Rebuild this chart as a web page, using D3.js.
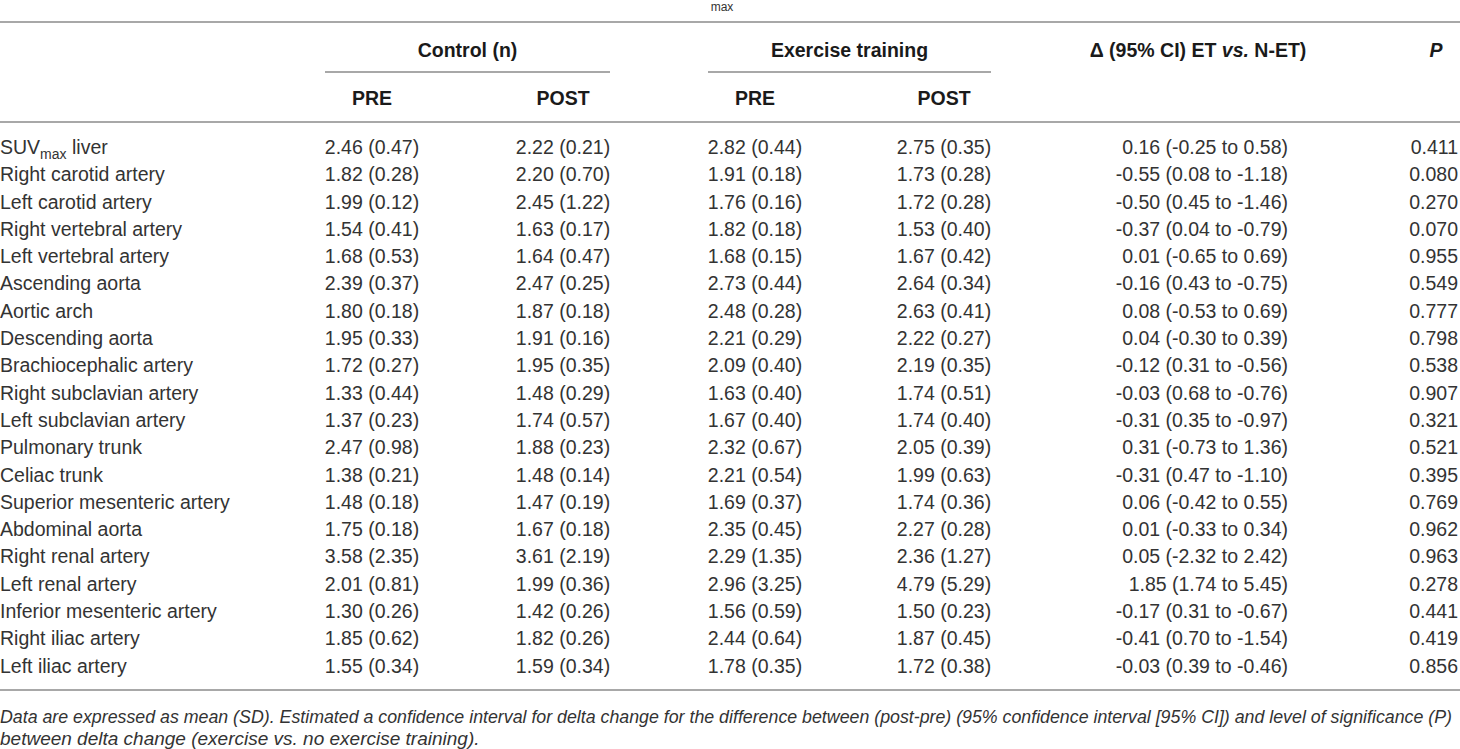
<!DOCTYPE html>
<html>
<head>
<meta charset="UTF-8">
<script src="https://d3js.org/d3.v7.min.js"></script>
<style>
  body { margin: 0; background: #fff; }
  svg text { font-family: "Liberation Sans", Arial, sans-serif; fill: #333; }
  .cell { font-size: 19.5px; }
  .head { font-size: 19.5px; font-weight: bold; fill: #1a1a1a; }
  .rule { stroke: #a8a8a8; stroke-width: 1.6; shape-rendering: crispEdges; }
  .note { font-size: 19px; font-style: italic; }
</style>
</head>
<body>
<svg></svg>
<script>
// table data
var rowLabels = ['SUVmax liver', 'Right carotid artery', 'Left carotid artery', 'Right vertebral artery',
  'Left vertebral artery', 'Ascending aorta', 'Aortic arch', 'Descending aorta', 'Brachiocephalic artery',
  'Right subclavian artery', 'Left subclavian artery', 'Pulmonary trunk', 'Celiac trunk',
  'Superior mesenteric artery', 'Abdominal aorta', 'Right renal artery', 'Left renal artery',
  'Inferior mesenteric artery', 'Right iliac artery', 'Left iliac artery'];
var ctrlPre = ['2.46 (0.47)', '1.82 (0.28)', '1.99 (0.12)', '1.54 (0.41)', '1.68 (0.53)', '2.39 (0.37)',
  '1.80 (0.18)', '1.95 (0.33)', '1.72 (0.27)', '1.33 (0.44)', '1.37 (0.23)', '2.47 (0.98)', '1.38 (0.21)',
  '1.48 (0.18)', '1.75 (0.18)', '3.58 (2.35)', '2.01 (0.81)', '1.30 (0.26)', '1.85 (0.62)', '1.55 (0.34)'];
var ctrlPost = ['2.22 (0.21)', '2.20 (0.70)', '2.45 (1.22)', '1.63 (0.17)', '1.64 (0.47)', '2.47 (0.25)',
  '1.87 (0.18)', '1.91 (0.16)', '1.95 (0.35)', '1.48 (0.29)', '1.74 (0.57)', '1.88 (0.23)', '1.48 (0.14)',
  '1.47 (0.19)', '1.67 (0.18)', '3.61 (2.19)', '1.99 (0.36)', '1.42 (0.26)', '1.82 (0.26)', '1.59 (0.34)'];
var exPre = ['2.82 (0.44)', '1.91 (0.18)', '1.76 (0.16)', '1.82 (0.18)', '1.68 (0.15)', '2.73 (0.44)',
  '2.48 (0.28)', '2.21 (0.29)', '2.09 (0.40)', '1.63 (0.40)', '1.67 (0.40)', '2.32 (0.67)', '2.21 (0.54)',
  '1.69 (0.37)', '2.35 (0.45)', '2.29 (1.35)', '2.96 (3.25)', '1.56 (0.59)', '2.44 (0.64)', '1.78 (0.35)'];
var exPost = ['2.75 (0.35)', '1.73 (0.28)', '1.72 (0.28)', '1.53 (0.40)', '1.67 (0.42)', '2.64 (0.34)',
  '2.63 (0.41)', '2.22 (0.27)', '2.19 (0.35)', '1.74 (0.51)', '1.74 (0.40)', '2.05 (0.39)', '1.99 (0.63)',
  '1.74 (0.36)', '2.27 (0.28)', '2.36 (1.27)', '4.79 (5.29)', '1.50 (0.23)', '1.87 (0.45)', '1.72 (0.38)'];
var deltaCI = ['0.16 (-0.25 to 0.58)', '-0.55 (0.08 to -1.18)', '-0.50 (0.45 to -1.46)', '-0.37 (0.04 to -0.79)',
  '0.01 (-0.65 to 0.69)', '-0.16 (0.43 to -0.75)', '0.08 (-0.53 to 0.69)', '0.04 (-0.30 to 0.39)',
  '-0.12 (0.31 to -0.56)', '-0.03 (0.68 to -0.76)', '-0.31 (0.35 to -0.97)', '0.31 (-0.73 to 1.36)',
  '-0.31 (0.47 to -1.10)', '0.06 (-0.42 to 0.55)', '0.01 (-0.33 to 0.34)', '0.05 (-2.32 to 2.42)',
  '1.85 (1.74 to 5.45)', '-0.17 (0.31 to -0.67)', '-0.41 (0.70 to -1.54)', '-0.03 (0.39 to -0.46)'];
var pValues = ['0.411', '0.080', '0.270', '0.070', '0.955', '0.549', '0.777', '0.798', '0.538', '0.907',
  '0.321', '0.521', '0.395', '0.769', '0.962', '0.963', '0.278', '0.441', '0.419', '0.856'];

var columns = ['label', 'ctrlPre', 'ctrlPost', 'exPre', 'exPost', 'delta', 'p'];
var groups = [
  {name: 'Control (n)', cols: ['ctrlPre', 'ctrlPost']},
  {name: 'Exercise training', cols: ['exPre', 'exPost']}
];

var width = 1460, height = 749;
var svg = d3.select('svg').attr('width', width).attr('height', height);

// column anchor positions and text alignment
var colX = d3.scaleOrdinal().domain(columns).range([0, 372, 563, 755, 944, 1288, 1458]);
var colAnchor = d3.scaleOrdinal().domain(columns).range(['start', 'middle', 'middle', 'middle', 'middle', 'end', 'end']);

// rows
var y = d3.scaleBand().domain(d3.range(rowLabels.length)).range([133.5, 679.5]);

var rows = rowLabels.map(function(d, i) {
  return {label: d, ctrlPre: ctrlPre[i], ctrlPost: ctrlPost[i], exPre: exPre[i],
          exPost: exPost[i], delta: deltaCI[i], p: pValues[i]};
});

// title fragment at the top
svg.append('text').attr('x', 722).attr('y', 11).attr('text-anchor', 'middle')
  .style('font-size', '12px').text('max');

// rules
svg.append('line').attr('class', 'rule').attr('x1', 0).attr('x2', width).attr('y1', 22).attr('y2', 22);
svg.append('line').attr('class', 'rule').attr('x1', 0).attr('x2', width).attr('y1', 122).attr('y2', 122);
svg.append('line').attr('class', 'rule').attr('x1', 0).attr('x2', width).attr('y1', 690).attr('y2', 690);

// group headers
var gh = svg.selectAll('.group').data(groups).enter().append('g').attr('class', 'group');
gh.append('line').attr('class', 'rule')
  .attr('x1', function(d) { return colX(d.cols[0]) - 47; })
  .attr('x2', function(d) { return colX(d.cols[1]) + 47; })
  .attr('y1', 72).attr('y2', 72);
gh.append('text').attr('class', 'head')
  .attr('x', function(d) { return (colX(d.cols[0]) + colX(d.cols[1])) / 2; })
  .attr('y', 50).attr('dy', '0.35em').attr('text-anchor', 'middle')
  .text(function(d) { return d.name; });

var sub = [];
groups.forEach(function(g) { sub.push({col: g.cols[0], t: 'PRE'}, {col: g.cols[1], t: 'POST'}); });
svg.selectAll('.subhead').data(sub).enter().append('text').attr('class', 'head')
  .attr('x', function(d) { return colX(d.col); })
  .attr('y', 98).attr('dy', '0.35em').attr('text-anchor', 'middle')
  .text(function(d) { return d.t; });

var dh = svg.append('text').attr('class', 'head')
  .attr('x', 1198).attr('y', 50).attr('dy', '0.35em').attr('text-anchor', 'middle');
dh.append('tspan').text('\u0394 (95% CI) ET ');
dh.append('tspan').style('font-style', 'italic').text('vs.');
dh.append('tspan').text(' N-ET)');

svg.append('text').attr('class', 'head')
  .attr('x', 1436).attr('y', 50).attr('dy', '0.35em').attr('text-anchor', 'middle')
  .style('font-style', 'italic').text('P');

// body cells
var row = svg.selectAll('.row').data(rows).enter().append('g').attr('class', 'row')
  .attr('transform', function(d, i) { return 'translate(0,' + (y(i) + y.bandwidth() / 2) + ')'; });

row.selectAll('text')
  .data(function(d) { return columns.map(function(c) { return {col: c, v: d[c]}; }); })
  .enter().append('text').attr('class', 'cell')
  .attr('x', function(d) { return colX(d.col); })
  .attr('dy', '0.35em')
  .attr('text-anchor', function(d) { return colAnchor(d.col); })
  .each(function(d) {
    var t = d3.select(this);
    if (d.v.indexOf('SUVmax') === 0) {
      t.append('tspan').text('SUV');
      t.append('tspan').attr('dy', 5).style('font-size', '14px').text('max');
      t.append('tspan').attr('dy', -5).text(d.v.slice(6));
    } else {
      t.text(d.v);
    }
  });

// footnote
svg.append('text').attr('class', 'note').attr('x', 0).attr('y', 723)
  .style('font-size', '17.8px')
  .attr('textLength', 1452).attr('lengthAdjust', 'spacing')
  .text('Data are expressed as mean (SD). Estimated a confidence interval for delta change for the difference between (post-pre) (95% confidence interval [95% CI]) and level of significance (P)');
svg.append('text').attr('class', 'note').attr('x', 0).attr('y', 745)
  .text('between delta change (exercise vs. no exercise training).');
</script>
</body>
</html>
